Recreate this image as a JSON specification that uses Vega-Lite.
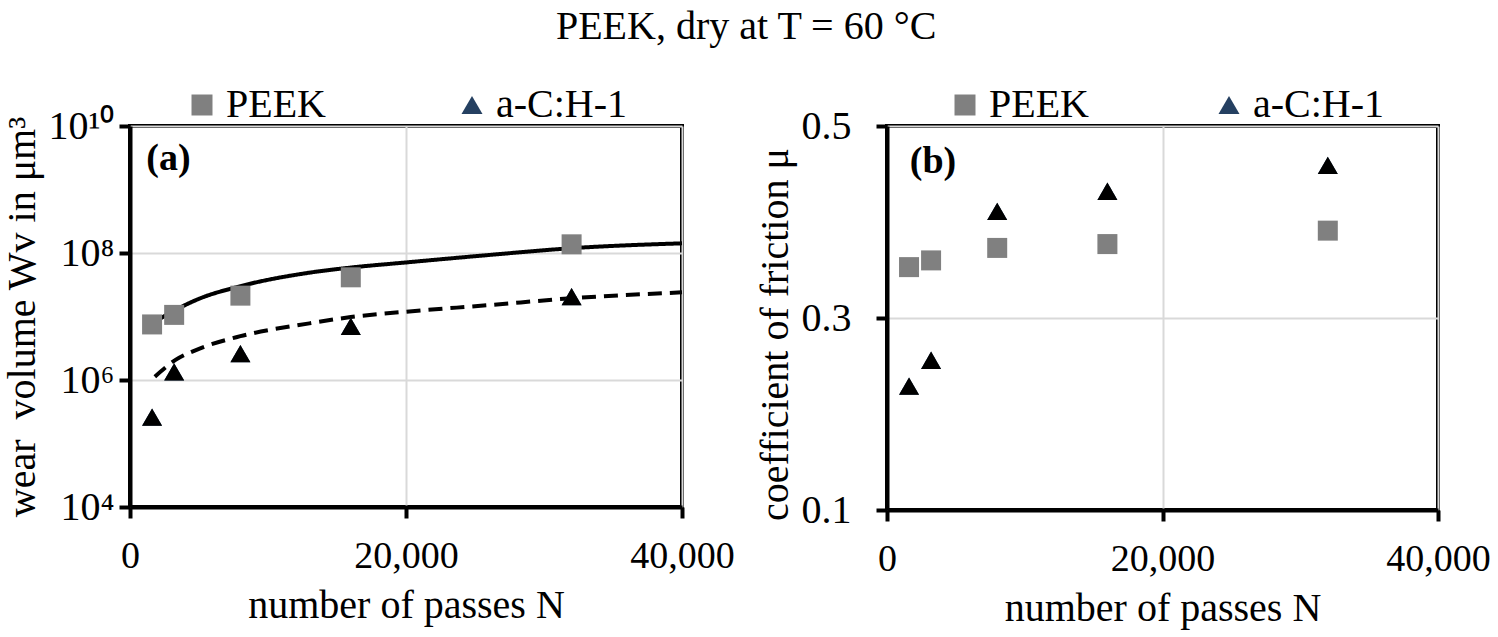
{
  "$schema": "https://vega.github.io/schema/vega-lite/v6.json",
  "description": "PEEK, dry at T = 60 C: wear volume (a) and coefficient of friction (b) over number of passes.",
  "title": {"text": "PEEK, dry at T = 60 °C", "fontSize": 40, "font": "Liberation Serif", "fontWeight": "normal", "color": "black", "anchor": "middle", "offset": 36},
  "padding": {"top": 7, "left": 0, "right": 0, "bottom": 4},
  "spacing": 16,
  "datasets": {
    "wear": [
      {"N": 1600, "Wv": 7.5e6, "series": "PEEK"},
      {"N": 3200, "Wv": 1.06e7, "series": "PEEK"},
      {"N": 8000, "Wv": 2.13e7, "series": "PEEK"},
      {"N": 16000, "Wv": 4.14e7, "series": "PEEK"},
      {"N": 32000, "Wv": 1.37e8, "series": "PEEK"},
      {"N": 1600, "Wv": 2.6e5, "series": "a-C:H-1"},
      {"N": 3200, "Wv": 1.34e6, "series": "a-C:H-1"},
      {"N": 8000, "Wv": 2.6e6, "series": "a-C:H-1"},
      {"N": 16000, "Wv": 7.0e6, "series": "a-C:H-1"},
      {"N": 32000, "Wv": 2.05e7, "series": "a-C:H-1"}
    ],
    "wearFit": [
      {"N": 1500, "Wv": 7.6e6, "fit": "PEEK"},
      {"N": 3300, "Wv": 1.27e7, "fit": "PEEK"},
      {"N": 5000, "Wv": 1.9e7, "fit": "PEEK"},
      {"N": 8000, "Wv": 3.0e7, "fit": "PEEK"},
      {"N": 13000, "Wv": 4.9e7, "fit": "PEEK"},
      {"N": 16000, "Wv": 5.9e7, "fit": "PEEK"},
      {"N": 20000, "Wv": 7.1e7, "fit": "PEEK"},
      {"N": 26000, "Wv": 9.3e7, "fit": "PEEK"},
      {"N": 32000, "Wv": 1.19e8, "fit": "PEEK"},
      {"N": 40000, "Wv": 1.42e8, "fit": "PEEK"},
      {"N": 1800, "Wv": 1.13e6, "fit": "a-C:H-1"},
      {"N": 3300, "Wv": 2.07e6, "fit": "a-C:H-1"},
      {"N": 5000, "Wv": 3.1e6, "fit": "a-C:H-1"},
      {"N": 8000, "Wv": 4.9e6, "fit": "a-C:H-1"},
      {"N": 13000, "Wv": 7.8e6, "fit": "a-C:H-1"},
      {"N": 16000, "Wv": 9.8e6, "fit": "a-C:H-1"},
      {"N": 20000, "Wv": 1.19e7, "fit": "a-C:H-1"},
      {"N": 26000, "Wv": 1.51e7, "fit": "a-C:H-1"},
      {"N": 32000, "Wv": 1.94e7, "fit": "a-C:H-1"},
      {"N": 40000, "Wv": 2.4e7, "fit": "a-C:H-1"}
    ],
    "cof": [
      {"N": 1600, "mu": 0.353, "series": "PEEK"},
      {"N": 3200, "mu": 0.36, "series": "PEEK"},
      {"N": 8000, "mu": 0.373, "series": "PEEK"},
      {"N": 16000, "mu": 0.377, "series": "PEEK"},
      {"N": 32000, "mu": 0.391, "series": "PEEK"},
      {"N": 1600, "mu": 0.229, "series": "a-C:H-1"},
      {"N": 3200, "mu": 0.256, "series": "a-C:H-1"},
      {"N": 8000, "mu": 0.411, "series": "a-C:H-1"},
      {"N": 16000, "mu": 0.432, "series": "a-C:H-1"},
      {"N": 32000, "mu": 0.459, "series": "a-C:H-1"}
    ],
    "tagA": [{"N": 2790, "Wv": 3.0e9, "tag": "(a)"}],
    "tagB": [{"N": 3340, "mu": 0.4625, "tag": "(b)"}]
  },
  "hconcat": [
    {
      "width": 552,
      "height": 381,
      "encoding": {
        "x": {
          "field": "N", "type": "quantitative",
          "scale": {"domain": [0, 40000], "nice": false},
          "axis": {"values": [0, 20000, 40000], "format": ",d", "title": "number of passes N", "labelFontSize": 38, "labelPadding": 19, "titlePadding": 10}
        },
        "y": {
          "field": "Wv", "type": "quantitative",
          "scale": {"type": "log", "domain": [10000, 10000000000], "nice": false},
          "axis": {
            "values": [10000, 1000000, 100000000, 10000000000],
            "labelExpr": "datum.value < 1e5 ? '10⁴' : datum.value < 1e7 ? '10⁶' : datum.value < 1e9 ? '10⁸' : '10¹⁰'",
            "title": "wear\u00a0 volume Wv in μm³",
            "labelPadding": 5,
            "titlePadding": 6
          }
        }
      },
      "layer": [
        {
          "data": {"name": "wearFit"},
          "mark": {"type": "line", "color": "black", "strokeWidth": 4, "interpolate": "monotone"},
          "encoding": {
            "strokeDash": {"field": "fit", "type": "nominal", "scale": {"domain": ["PEEK", "a-C:H-1"], "range": [[1, 0], [14, 8]]}, "legend": null}
          }
        },
        {
          "data": {"name": "wear"},
          "mark": {"type": "point", "filled": true, "opacity": 1, "size": 400, "strokeWidth": 0},
          "encoding": {
            "color": {
              "field": "series", "type": "nominal",
              "scale": {"domain": ["PEEK", "a-C:H-1"], "range": ["#808080", "#254061"]},
              "legend": {"orient": "none", "legendX": 52, "legendY": -41, "direction": "horizontal", "title": null, "columnPadding": 126, "labelOffset": 4, "symbolSize": 441, "labelFontSize": 40, "labelFont": "Liberation Serif", "labelColor": "black", "padding": 0}
            },
            "shape": {
              "field": "series", "type": "nominal",
              "scale": {"domain": ["PEEK", "a-C:H-1"], "range": ["square", "triangle-up"]},
              "legend": {"orient": "none", "legendX": 52, "legendY": -41, "direction": "horizontal", "title": null, "columnPadding": 126, "labelOffset": 4, "symbolSize": 441, "labelFontSize": 40, "labelFont": "Liberation Serif", "labelColor": "black", "padding": 0}
            }
          }
        },
        {
          "data": {"name": "wear"},
          "transform": [{"filter": "datum.series == 'a-C:H-1'"}],
          "mark": {"type": "point", "filled": true, "opacity": 1, "size": 400, "strokeWidth": 0, "shape": "triangle-up", "color": "black"}
        },
        {
          "data": {"name": "tagA"},
          "mark": {"type": "text", "fontSize": 38, "fontWeight": "bold", "font": "Liberation Serif", "color": "black", "align": "center", "baseline": "middle"},
          "encoding": {"text": {"field": "tag"}}
        }
      ]
    },
    {
      "width": 551,
      "height": 384,
      "encoding": {
        "x": {
          "field": "N", "type": "quantitative",
          "scale": {"domain": [0, 40000], "nice": false},
          "axis": {"values": [0, 20000, 40000], "format": ",d", "title": "number of passes N", "labelFontSize": 38, "labelPadding": 19, "titlePadding": 10}
        },
        "y": {
          "field": "mu", "type": "quantitative",
          "scale": {"domain": [0.1, 0.5], "nice": false, "zero": false},
          "axis": {"values": [0.1, 0.3, 0.5], "format": ".1f", "title": "coefficient of friction μ", "labelPadding": 25, "titlePadding": 6, "titleY": 208}
        }
      },
      "layer": [
        {
          "data": {"name": "cof"},
          "mark": {"type": "point", "filled": true, "opacity": 1, "size": 400, "strokeWidth": 0},
          "encoding": {
            "color": {
              "field": "series", "type": "nominal",
              "scale": {"domain": ["PEEK", "a-C:H-1"], "range": ["#808080", "#254061"]},
              "legend": {"orient": "none", "legendX": 58, "legendY": -41, "direction": "horizontal", "title": null, "columnPadding": 120, "labelOffset": 4, "symbolSize": 441, "labelFontSize": 40, "labelFont": "Liberation Serif", "labelColor": "black", "padding": 0}
            },
            "shape": {
              "field": "series", "type": "nominal",
              "scale": {"domain": ["PEEK", "a-C:H-1"], "range": ["square", "triangle-up"]},
              "legend": {"orient": "none", "legendX": 58, "legendY": -41, "direction": "horizontal", "title": null, "columnPadding": 120, "labelOffset": 4, "symbolSize": 441, "labelFontSize": 40, "labelFont": "Liberation Serif", "labelColor": "black", "padding": 0}
            }
          }
        },
        {
          "data": {"name": "cof"},
          "transform": [{"filter": "datum.series == 'a-C:H-1'"}],
          "mark": {"type": "point", "filled": true, "opacity": 1, "size": 400, "strokeWidth": 0, "shape": "triangle-up", "color": "black"}
        },
        {
          "data": {"name": "tagB"},
          "mark": {"type": "text", "fontSize": 38, "fontWeight": "bold", "font": "Liberation Serif", "color": "black", "align": "center", "baseline": "middle"},
          "encoding": {"text": {"field": "tag"}}
        }
      ]
    }
  ],
  "resolve": {
    "scale": {"color": "independent", "shape": "independent", "y": "independent", "x": "independent"},
    "legend": {"color": "independent", "shape": "independent"}
  },
  "config": {
    "font": "Liberation Serif",
    "background": "white",
    "view": {"stroke": "black", "strokeWidth": 4},
    "axis": {
      "domainColor": "black", "domainWidth": 4,
      "tickColor": "black", "tickWidth": 4, "tickSize": 11,
      "grid": true, "gridColor": "#d9d9d9", "gridWidth": 2,
      "labelFont": "Liberation Serif", "labelFontSize": 40, "labelColor": "black",
      "titleFont": "Liberation Serif", "titleFontSize": 40, "titleColor": "black", "titleFontWeight": "normal",
      "labelOverlap": false, "labelFlush": false
    }
  }
}
